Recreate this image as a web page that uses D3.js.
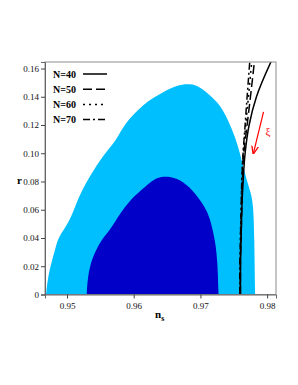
<!DOCTYPE html>
<html>
<head>
<meta charset="utf-8">
<script src="https://d3js.org/d3.v7.min.js"></script>
<style>
  body { margin: 0; background: #fff; }
  text { font-family: "Liberation Serif", "DejaVu Serif", serif; }
</style>
</head>
<body>
<svg id="chart"></svg>
<script>
// outer (light) region, [n_s, r]
const outerContour = [
  [0.94685, 0], [0.94720, 0.0149], [0.94820, 0.0314], [0.94870, 0.0408], [0.95019, 0.0503],
  [0.95120, 0.0620], [0.95220, 0.0738], [0.95370, 0.0857], [0.95520, 0.0974], [0.95745, 0.1092],
  [0.95844, 0.1199], [0.96144, 0.1352], [0.96444, 0.1434], [0.96645, 0.1482], [0.96844, 0.1494],
  [0.96994, 0.1470], [0.97144, 0.1411], [0.97294, 0.1344], [0.97418, 0.1234], [0.97519, 0.1116],
  [0.97594, 0.0998], [0.97643, 0.0903], [0.97694, 0.0809], [0.97744, 0.0738], [0.97793, 0.0646],
  [0.97808, 0.0408], [0.97819, 0]
];
// inner (dark) region
const innerContour = [
  [0.95295, 0], [0.95307, 0.0101], [0.95345, 0.0207], [0.95412, 0.0292], [0.95510, 0.0384],
  [0.95645, 0.0455], [0.95795, 0.0573], [0.95945, 0.0668], [0.96094, 0.0731], [0.96244, 0.0795],
  [0.96364, 0.0830], [0.96469, 0.0837], [0.96645, 0.0828], [0.96844, 0.0762], [0.96994, 0.0668],
  [0.97094, 0.0597], [0.97159, 0.0512], [0.97219, 0.0384], [0.97256, 0.0243], [0.97271, 0]
];

const rValues = [0, 0.02, 0.04, 0.06, 0.08, 0.10, 0.12, 0.14, 0.165];
const nsN40 = [0.9760, 0.9760, 0.9761, 0.9762, 0.9764, 0.9767, 0.9773, 0.9784, 0.9806];
const nsN50 = [0.9760, 0.9760, 0.9761, 0.9762, 0.9763, 0.9765, 0.9770, 0.9775, 0.9781];
const nsN60 = [0.9759, 0.9760, 0.9760, 0.9761, 0.9762, 0.9764, 0.9768, 0.9772, 0.9777];
const nsN70 = [0.9759, 0.9759, 0.9760, 0.9761, 0.9762, 0.9764, 0.9767, 0.9770, 0.9774];

const seriesNames = ["N=40", "N=50", "N=60", "N=70"];
const xTicks = [0.95, 0.96, 0.97, 0.98];
const xTickLabels = ["0.95", "0.96", "0.97", "0.98"];
const yTicks = [0, 0.02, 0.04, 0.06, 0.08, 0.10, 0.12, 0.14, 0.16];
const yTickLabels = ["0", "0.02", "0.04", "0.06", "0.08", "0.10", "0.12", "0.14", "0.16"];

// arrow for xi, [n_s, r]
const arrowFrom = [0.97946, 0.1293];
const arrowTo = [0.97793, 0.0998];
const xiPos = [0.97975, 0.1128];

const W = 298, H = 385;
const LEFT = 45, RIGHT = 276, TOP = 62, BOTTOM = 294.5;
const dashes = [null, "9,4", "2,4", "7,3,2,3"];

const svg = d3.select("#chart").attr("width", W).attr("height", H);

const x = d3.scaleLinear().domain([0.9467, 0.98133]).range([LEFT, RIGHT]);
const y = d3.scaleLinear().domain([0, 0.1646]).range([BOTTOM, TOP]);

svg.append("defs").append("clipPath").attr("id", "plot")
  .append("rect").attr("x", LEFT).attr("y", TOP)
  .attr("width", RIGHT - LEFT).attr("height", BOTTOM - TOP);

const area = d3.line().x(d => x(d[0])).y(d => y(d[1])).curve(d3.curveBasis);

const g = svg.append("g").attr("clip-path", "url(#plot)");
g.append("path").attr("d", area(outerContour) + "Z").attr("fill", "#00bfff");
g.append("path").attr("d", area(innerContour) + "Z").attr("fill", "#0000c8");

const curve = d3.line().x(d => x(d[0])).y(d => y(d[1])).curve(d3.curveMonotoneY);
const series = [nsN70, nsN60, nsN50, nsN40];
const seriesDash = [dashes[3], dashes[2], dashes[1], dashes[0]];
series.forEach((ns, i) => {
  g.append("path")
    .attr("d", curve(ns.map((n, j) => [n, rValues[j]])))
    .attr("fill", "none")
    .attr("stroke", "#000")
    .attr("stroke-width", 1.5)
    .attr("stroke-dasharray", seriesDash[i]);
});

// frame
svg.append("rect").attr("x", LEFT).attr("y", TOP)
  .attr("width", RIGHT - LEFT).attr("height", BOTTOM - TOP)
  .attr("fill", "none").attr("stroke", "#8c8c8c").attr("stroke-width", 1);

// axes
const xAxis = svg.append("g").attr("transform", `translate(0,${BOTTOM})`)
  .call(d3.axisBottom(x).tickValues(xTicks).tickSize(4).tickFormat((d, i) => xTickLabels[i]));
const yAxis = svg.append("g").attr("transform", `translate(${LEFT},0)`)
  .call(d3.axisLeft(y).tickValues(yTicks).tickSize(4).tickFormat((d, i) => yTickLabels[i]));
[xAxis, yAxis].forEach(a => {
  a.select(".domain").attr("stroke", "#666");
  a.selectAll(".tick line").attr("stroke", "#444");
  a.selectAll(".tick text").attr("font-family", "Liberation Serif, serif")
    .attr("font-size", 9).attr("fill", "#111");
});
yAxis.selectAll(".tick text").attr("x", -6);
xAxis.selectAll(".tick text").attr("y", 8);

// axis labels
svg.append("text").attr("x", 17).attr("y", 184).attr("font-weight", "bold")
  .attr("font-size", 11).text("r");
const nsLabel = svg.append("text").attr("x", 155).attr("y", 318)
  .attr("font-weight", "bold").attr("font-size", 11);
nsLabel.append("tspan").text("n");
nsLabel.append("tspan").attr("dy", 3).attr("font-size", 8).text("s");

// legend
seriesNames.forEach((name, i) => {
  const ly = 74 + i * 15.2;
  svg.append("text").attr("x", 53).attr("y", ly + 3.5)
    .attr("font-weight", "bold").attr("font-size", 10).text(name);
  svg.append("line").attr("x1", 83).attr("x2", 107).attr("y1", ly).attr("y2", ly)
    .attr("stroke", "#000").attr("stroke-width", 1.5)
    .attr("stroke-dasharray", dashes[i]);
});

// xi arrow
svg.append("defs").append("marker").attr("id", "head")
  .attr("viewBox", "0 0 10 10").attr("refX", 9).attr("refY", 5)
  .attr("markerWidth", 7).attr("markerHeight", 7).attr("orient", "auto")
  .append("path").attr("d", "M0,1L10,5L0,9").attr("fill", "none")
  .attr("stroke", "#f00").attr("stroke-width", 1.5);
svg.append("line")
  .attr("x1", x(arrowFrom[0])).attr("y1", y(arrowFrom[1]))
  .attr("x2", x(arrowTo[0])).attr("y2", y(arrowTo[1]))
  .attr("stroke", "#f00").attr("stroke-width", 1.2).attr("marker-end", "url(#head)");
svg.append("text").attr("x", x(xiPos[0])).attr("y", y(xiPos[1]))
  .attr("fill", "#f00").attr("font-size", 11).text("ξ");
</script>
</body>
</html>
